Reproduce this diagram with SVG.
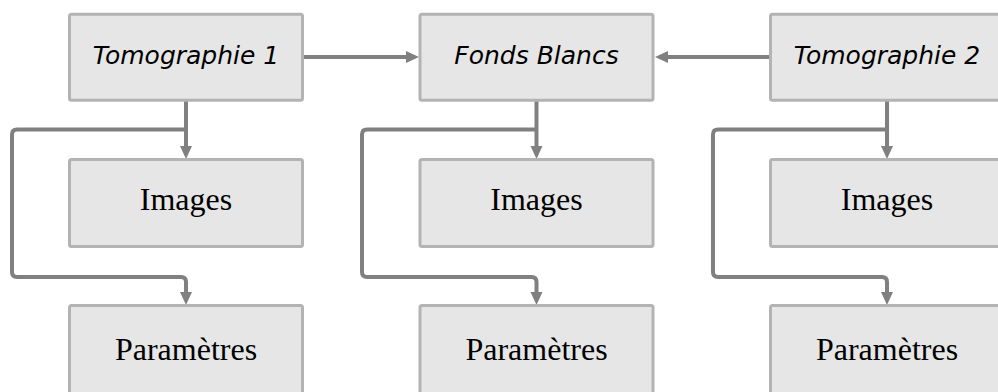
<svg xmlns="http://www.w3.org/2000/svg" width="998" height="392" viewBox="0 0 998 392">
<style>
.box{fill:#e6e6e6;stroke:#b3b3b3;stroke-width:3}
.t{font-family:"DejaVu Sans",sans-serif;font-style:italic;font-size:25px;fill:#000;text-anchor:middle}
.s{font-family:"Liberation Serif",serif;font-size:32px;fill:#000;text-anchor:middle}
.c{fill:none;stroke:#808080;stroke-width:4;stroke-linejoin:round}
</style>
<defs>
<marker id="ah" viewBox="0 0 13 13" refX="5" refY="6.5" markerWidth="13" markerHeight="13" markerUnits="userSpaceOnUse" orient="auto">
<path d="M0,0.5 L13,6.5 L0,12.5 z" fill="#808080"/>
</marker>
</defs>
<rect width="998" height="392" fill="#fff"/>
<g id="connectors">
<path class="c" d="M304,57 H411" marker-end="url(#ah)"/>
<path class="c" d="M769,57 H663" marker-end="url(#ah)"/>
<path class="c" d="M186,101 V151" marker-end="url(#ah)"/>
<path class="c" d="M186,129.5 H17 Q12,129.5 12,134.5 V272 Q12,277 17,277 H181 Q186,277 186,282 V297" marker-end="url(#ah)"/>
<path class="c" d="M536.5,101 V151" marker-end="url(#ah)"/>
<path class="c" d="M536.5,129.5 H367 Q362,129.5 362,134.5 V272 Q362,277 367,277 H531.5 Q536.5,277 536.5,282 V297" marker-end="url(#ah)"/>
<path class="c" d="M887,101 V151" marker-end="url(#ah)"/>
<path class="c" d="M887,129.5 H718 Q713,129.5 713,134.5 V272 Q713,277 718,277 H882 Q887,277 887,282 V297" marker-end="url(#ah)"/>
</g>
<g id="tomo1"><rect class="box" x="69.5" y="14.2" width="233" height="86" rx="2"/><text class="t" x="186" y="64">Tomographie 1</text></g>
<g id="fonds"><rect class="box" x="420" y="14.2" width="233" height="86" rx="2"/><text class="t" x="536.5" y="64">Fonds Blancs</text></g>
<g id="tomo2"><rect class="box" x="770.5" y="14.2" width="233" height="86" rx="2"/><text class="t" x="887" y="64">Tomographie 2</text></g>
<g id="img1"><rect class="box" x="69.5" y="159.5" width="233" height="87" rx="2"/><text class="s" x="186" y="209.5">Images</text></g>
<g id="img2"><rect class="box" x="420" y="159.5" width="233" height="87" rx="2"/><text class="s" x="536.5" y="209.5">Images</text></g>
<g id="img3"><rect class="box" x="770.5" y="159.5" width="233" height="87" rx="2"/><text class="s" x="887" y="209.5">Images</text></g>
<g id="par1"><rect class="box" x="69.5" y="305.5" width="233" height="100" rx="2"/><text class="s" x="186" y="359.5">Paramètres</text></g>
<g id="par2"><rect class="box" x="420" y="305.5" width="233" height="100" rx="2"/><text class="s" x="536.5" y="359.5">Paramètres</text></g>
<g id="par3"><rect class="box" x="770.5" y="305.5" width="233" height="100" rx="2"/><text class="s" x="887" y="359.5">Paramètres</text></g>
</svg>
